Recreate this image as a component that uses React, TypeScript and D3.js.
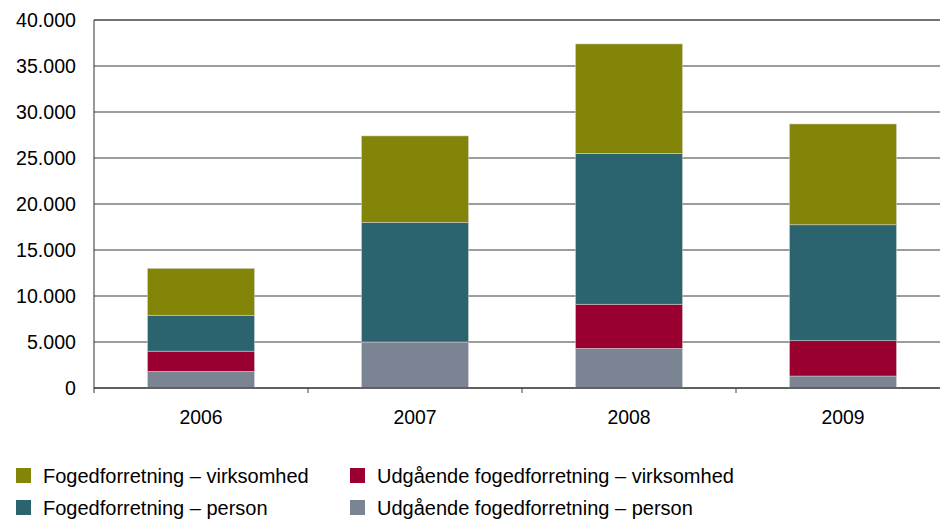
import React from "react";
import * as d3 from "d3";

const years = ["2006", "2007", "2008", "2009"];
// stacked bottom to top
const udgPerson = [1800, 5000, 4300, 1300];
const udgVirksomhed = [2200, 0, 4800, 3850];
const fogPerson = [3900, 13000, 16400, 12600];
const fogVirksomhed = [5100, 9400, 11900, 10950];
const yTicks = [0, 5000, 10000, 15000, 20000, 25000, 30000, 35000, 40000];

const seriesKeys = ["udgPerson", "udgVirksomhed", "fogPerson", "fogVirksomhed"];
const colors = {
  fogVirksomhed: "#838508",
  udgVirksomhed: "#990030",
  fogPerson: "#2b646f",
  udgPerson: "#7b8493",
};
const legendItems = [
  { key: "fogVirksomhed", label: "Fogedforretning – virksomhed" },
  { key: "udgVirksomhed", label: "Udgående fogedforretning – virksomhed" },
  { key: "fogPerson", label: "Fogedforretning – person" },
  { key: "udgPerson", label: "Udgående fogedforretning – person" },
];

const W = 940;
const H = 519;
const margin = { top: 20, left: 94, bottom: 388 };
const font = "'Liberation Sans', Arial, sans-serif";

export default function App() {
  const rows = years.map((y, i) => ({
    year: y,
    udgPerson: udgPerson[i],
    udgVirksomhed: udgVirksomhed[i],
    fogPerson: fogPerson[i],
    fogVirksomhed: fogVirksomhed[i],
  }));
  const stacked = d3.stack().keys(seriesKeys)(rows as any);

  const x = d3
    .scaleBand()
    .domain(years)
    .range([margin.left, margin.left + 856])
    .paddingInner(0.5)
    .paddingOuter(0.25);
  const y = d3.scaleLinear().domain([0, 40000]).range([margin.bottom, margin.top]);
  const fmt = (v: number) => d3.format(",")(v).replace(/,/g, ".");

  return (
    <svg
      width={W}
      height={H}
      style={{ position: "absolute", left: 0, top: 0, background: "#fff" }}
    >
      {/* grid */}
      {yTicks.map((t) => (
        <line
          key={t}
          x1={margin.left}
          x2={W}
          y1={y(t)}
          y2={y(t)}
          stroke={t === 40000 ? "#444" : "#3a3a3a"}
          strokeWidth={t === 40000 ? 1.5 : 1}
        />
      ))}
      {/* bars */}
      {stacked.map((s) => (
        <g key={s.key} fill={(colors as any)[s.key]}>
          {s.map((d: any, i) =>
            d[1] - d[0] > 0 ? (
              <rect
                key={i}
                x={x(years[i])}
                width={x.bandwidth()}
                y={y(d[1])}
                height={y(d[0]) - y(d[1])}
                stroke="#d8d8d8"
                strokeOpacity={0.6}
                strokeWidth={0.8}
              />
            ) : null
          )}
        </g>
      ))}
      {/* axes */}
      <line x1={margin.left} x2={margin.left} y1={margin.top} y2={margin.bottom + 5} stroke="#333" />
      <line x1={margin.left} x2={W} y1={margin.bottom} y2={margin.bottom} stroke="#222" />
      {years.slice(1).map((yr) => {
        const bx = (x(yr) as number) - x.step() * 0.25;
        return <line key={yr} x1={bx} x2={bx} y1={margin.bottom} y2={margin.bottom + 5} stroke="#444" />;
      })}
      {yTicks.map((t) => (
        <text
          key={t}
          x={76}
          y={y(t)}
          dy="0.35em"
          textAnchor="end"
          fontFamily={font}
          fontSize={19.6}
          fill="#000"
        >
          {fmt(t)}
        </text>
      ))}
      {years.map((yr) => (
        <text
          key={yr}
          x={(x(yr) as number) + x.bandwidth() / 2}
          y={417}
          dy="0.35em"
          textAnchor="middle"
          fontFamily={font}
          fontSize={19.4}
          fill="#000"
        >
          {yr}
        </text>
      ))}
      {/* legend */}
      {legendItems.map((it, i) => {
        const lx = i % 2 === 0 ? 16 : 350;
        const ly = i < 2 ? 476 : 508;
        return (
          <g key={it.key}>
            <rect x={lx} y={ly - 8} width={15} height={15} fill={(colors as any)[it.key]} />
            <text x={lx + 27} y={ly} dy="0.35em" fontFamily={font} fontSize={20} fill="#000">
              {it.label}
            </text>
          </g>
        );
      })}
    </svg>
  );
}
